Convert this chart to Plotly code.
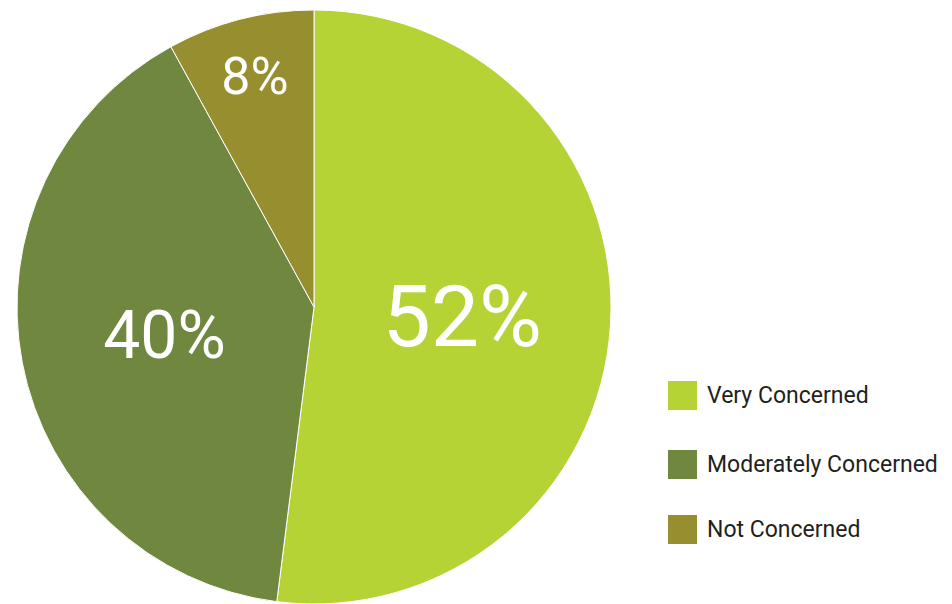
import plotly.graph_objects as go

labels = ["Very Concerned", "Moderately Concerned", "Not Concerned"]
values = [52, 40, 8]
colors = ["#b5d334", "#6f873f", "#978e30"]
text_sizes = [86, 66, 52]

FONT = "Roboto, Liberation Sans, sans-serif"
W, H = 952, 604

fig = go.Figure(go.Pie(
    labels=labels,
    values=values,
    sort=False,
    direction="clockwise",
    rotation=0,
    marker=dict(colors=colors, line=dict(color="white", width=1)),
    texttemplate="%{value}%",
    textposition="inside",
    insidetextorientation="horizontal",
    insidetextfont=dict(color="white", size=text_sizes, family=FONT),
    showlegend=False,
    hoverinfo="label+percent",
    domain=dict(x=[16 / W, 612 / W], y=[0, 1 - 10 / H]),
))

# Manual legend built from the data arrays
legend_y = [395.5, 464.5, 529.5]
shapes, annotations = [], []
for lab, col, yc in zip(labels, colors, legend_y):
    shapes.append(dict(type="rect", xref="paper", yref="paper",
                       x0=668 / W, x1=697 / W,
                       y0=1 - (yc + 14.5) / H, y1=1 - (yc - 14.5) / H,
                       fillcolor=col, line=dict(width=0)))
    annotations.append(dict(text=lab, xref="paper", yref="paper",
                            x=705 / W, y=1 - yc / H, xanchor="left", yanchor="middle",
                            showarrow=False,
                            font=dict(size=23, color="#231f20", family=FONT)))

fig.update_layout(
    width=W, height=H,
    margin=dict(l=0, r=0, t=0, b=0),
    paper_bgcolor="white",
    plot_bgcolor="white",
    shapes=shapes,
    annotations=annotations,
)

fig.write_html("out.html", config={"displayModeBar": False},
               post_script="document.body.style.margin='0';")
